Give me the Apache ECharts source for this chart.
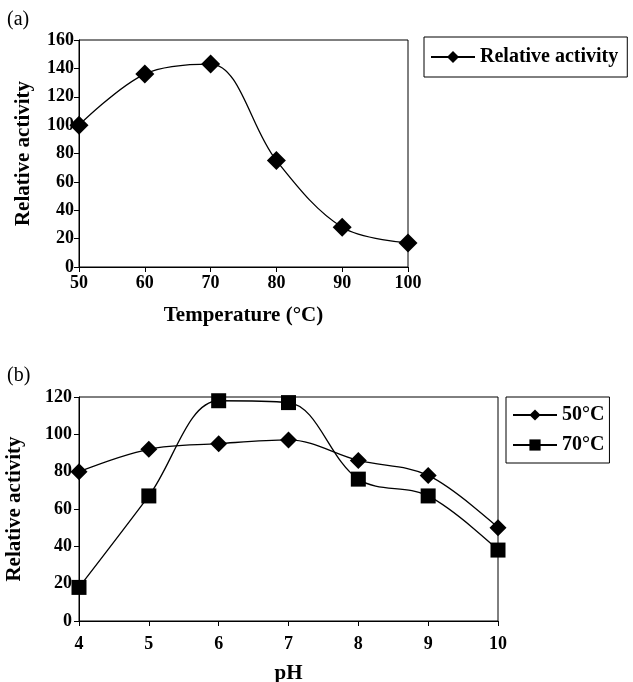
<!DOCTYPE html>
<html>
<head>
<meta charset="utf-8">
<script src="https://cdn.jsdelivr.net/npm/echarts@6/dist/echarts.min.js"></script>
<style>
  html, body { margin: 0; padding: 0; background: #fff; }
  #chart { width: 633px; height: 682px; }
</style>
</head>
<body>
<div id="chart"></div>
<script>
// (a) temperature effect
const tempX = [50, 60, 70, 80, 90, 100]
const tempActivity = [100, 136, 143, 75, 28, 17]

// (b) pH effect
const phX = [4, 5, 6, 7, 8, 9, 10]
const ph50 = [80, 92, 95, 97, 86, 78, 50]
const ph70 = [18, 67, 118, 117, 76, 67, 38]

const font = 'Liberation Serif'
const chart = echarts.init(document.getElementById('chart'))

function pairs(xs, ys) {
  return xs.map((x, i) => [x, ys[i]])
}

const axisLine = { show: true, lineStyle: { color: '#000', width: 1 } }
const tickStyle = { show: true, length: 5, lineStyle: { color: '#000' } }
const labelStyle = { color: '#000', fontFamily: font, fontWeight: 'bold', fontSize: 18 }
const nameStyle = { color: '#000', fontFamily: font, fontWeight: 'bold', fontSize: 21 }

let option = {
  animation: false,
  backgroundColor: '#fff',
  graphic: [
    { type: 'text', left: 7, top: 10, style: { text: '(a)', font: '20px Liberation Serif', fill: '#000' } },
    { type: 'text', left: 7, top: 366, style: { text: '(b)', font: '20px Liberation Serif', fill: '#000' } }
  ],
  grid: [
    { left: 79, top: 40, width: 329, height: 227, show: true, borderColor: '#000', borderWidth: 1, outerBoundsMode: 'none', containLabel: false },
    { left: 79, top: 397, width: 419, height: 224, show: true, borderColor: '#000', borderWidth: 1, outerBoundsMode: 'none', containLabel: false }
  ],
  legend: [
    {
      data: ['Relative activity'],
      left: 424, top: 37,
      padding: [10, 9, 10, 6],
      borderColor: '#000', borderWidth: 1,
      itemWidth: 44, itemHeight: 15,
      textStyle: { color: '#000', fontFamily: font, fontWeight: 'bold', fontSize: 20 }
    },
    {
      data: ['50°C', '70°C'],
      orient: 'vertical',
      left: 506, top: 397,
      padding: [8, 5, 8, 6],
      itemGap: 10,
      borderColor: '#000', borderWidth: 1,
      itemWidth: 44, itemHeight: 14,
      textStyle: { color: '#000', fontFamily: font, fontWeight: 'bold', fontSize: 20 }
    }
  ],
  xAxis: [
    {
      gridIndex: 0, type: 'value', min: 50, max: 100, interval: 10,
      name: 'Temperature (°C)', nameLocation: 'middle', nameGap: 38, nameTextStyle: nameStyle,
      axisLine, axisTick: tickStyle, splitLine: { show: false },
      axisLabel: Object.assign({ margin: 7 }, labelStyle)
    },
    {
      gridIndex: 1, type: 'value', min: 4, max: 10, interval: 1,
      name: 'pH', nameLocation: 'middle', nameGap: 42, nameTextStyle: nameStyle,
      axisLine, axisTick: tickStyle, splitLine: { show: false },
      axisLabel: Object.assign({ margin: 14 }, labelStyle)
    }
  ],
  yAxis: [
    {
      gridIndex: 0, type: 'value', min: 0, max: 160, interval: 20,
      name: 'Relative activity', nameLocation: 'middle', nameGap: 45, nameTextStyle: nameStyle,
      axisLine, axisTick: tickStyle, splitLine: { show: false },
      axisLabel: Object.assign({ margin: 5 }, labelStyle)
    },
    {
      gridIndex: 1, type: 'value', min: 0, max: 120, interval: 20,
      name: 'Relative activity', nameLocation: 'middle', nameGap: 54, nameTextStyle: nameStyle,
      axisLine, axisTick: tickStyle, splitLine: { show: false },
      axisLabel: Object.assign({ margin: 7 }, labelStyle)
    }
  ],
  series: [
    {
      name: 'Relative activity', type: 'line', xAxisIndex: 0, yAxisIndex: 0,
      data: pairs(tempX, tempActivity), smooth: 0.35, clip: false,
      symbol: 'diamond', symbolSize: 19,
      lineStyle: { color: '#000', width: 1.3 }, itemStyle: { color: '#000' }
    },
    {
      name: '50°C', type: 'line', xAxisIndex: 1, yAxisIndex: 1,
      data: pairs(phX, ph50), smooth: 0.35, clip: false,
      symbol: 'diamond', symbolSize: 17,
      lineStyle: { color: '#000', width: 1.3 }, itemStyle: { color: '#000' }
    },
    {
      name: '70°C', type: 'line', xAxisIndex: 1, yAxisIndex: 1,
      data: pairs(phX, ph70), smooth: 0.35, clip: false,
      symbol: 'rect', symbolSize: 15,
      lineStyle: { color: '#000', width: 1.3 }, itemStyle: { color: '#000' }
    }
  ]
}
chart.setOption(option)
</script>
</body>
</html>
